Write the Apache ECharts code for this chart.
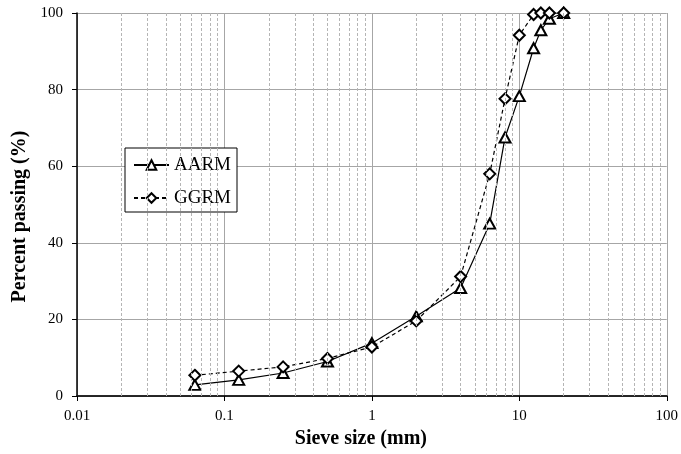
<!DOCTYPE html>
<html>
<head>
<meta charset="utf-8">
<script src="https://cdn.jsdelivr.net/npm/echarts@6/dist/echarts.min.js"></script>
<style>html,body{margin:0;padding:0;background:#fff;}#c{width:681px;height:454px;}</style>
</head>
<body>
<div id="c"></div>
<script>
var sieveSizes = [0.063, 0.125, 0.25, 0.5, 1, 2, 4, 6.3, 8, 10, 12.5, 14, 16, 20];
var aarm = [2.9, 4.2, 6.0, 9.0, 13.8, 20.8, 28.2, 45.0, 67.5, 78.3, 90.8, 95.5, 98.5, 100];
var ggrm = [5.4, 6.5, 7.6, 9.8, 12.8, 19.6, 31.2, 58.0, 77.6, 94.2, 99.6, 100, 100, 100];
var yTicks = [0, 20, 40, 60, 80, 100];
var decades = [0.01, 0.1, 1, 10];
var minorMultipliers = [2, 3, 4, 5, 6, 7, 8, 9];

var minorLines = [];
decades.forEach(function (d) {
  minorMultipliers.forEach(function (m) {
    minorLines.push({ xAxis: +(d * m).toPrecision(3) });
  });
});

function pairs(xs, ys) { return xs.map(function (x, i) { return [x, ys[i]]; }); }

var font = 'Liberation Serif, Times New Roman, serif';
var chart = echarts.init(document.getElementById('c'));
chart.setOption({
  animation: false,
  textStyle: { fontFamily: font, color: '#000' },
  grid: { left: 77, right: 12, top: 13, bottom: 58 },
  legend: {
    data: ['AARM', 'GGRM'],
    orient: 'vertical',
    left: 125, top: 148,
    backgroundColor: '#fff',
    borderColor: '#000', borderWidth: 1,
    padding: [7, 6, 4, 8],
    itemWidth: 35, itemHeight: 12, itemGap: 13,
    textStyle: { fontFamily: font, fontSize: 19, color: '#000', lineHeight: 20 }
  },
  xAxis: [{
    type: 'log', logBase: 10, min: 0.01, max: 100,
    name: 'Sieve size (mm)', nameLocation: 'middle', nameGap: 33,
    nameTextStyle: { fontFamily: font, fontSize: 20, fontWeight: 'bold', color: '#000', padding: [0, 22, 0, 0] },
    axisLine: { show: true, onZero: false, lineStyle: { color: '#000', width: 1.5 } },
    axisTick: { show: true, inside: false, length: 5, lineStyle: { color: '#000' } },
    axisLabel: { fontFamily: font, fontSize: 15, color: '#000', margin: 13,
      formatter: function (v) { return String(+v.toPrecision(3)); } },
    splitLine: { show: true, lineStyle: { color: '#a6a6a6', width: 1 } },
    minorTick: { show: false }, minorSplitLine: { show: false }
  }, {
    type: 'log', logBase: 10, min: 0.01, max: 100, position: 'top',
    axisLine: { show: true, lineStyle: { color: '#222', width: 1.5 } },
    axisTick: { show: false }, axisLabel: { show: false }, splitLine: { show: false }
  }],
  yAxis: {
    type: 'value', min: yTicks[0], max: yTicks[yTicks.length - 1], interval: 20,
    name: 'Percent passing (%)', nameLocation: 'middle', nameGap: 46,
    nameTextStyle: { fontFamily: font, fontSize: 20, fontWeight: 'bold', color: '#000', padding: [0, 24, 0, 0] },
    axisLine: { show: true, lineStyle: { color: '#000', width: 1.5 } },
    axisTick: { show: true, inside: false, length: 5, lineStyle: { color: '#000' } },
    axisLabel: { fontFamily: font, fontSize: 15, color: '#000', margin: 14 },
    splitLine: { show: true, lineStyle: { color: '#a6a6a6', width: 1 } }
  },
  series: [{
    name: 'minorGrid', type: 'line', data: [], z: 1, silent: true,
    markLine: {
      silent: true, symbol: ['none', 'none'], label: { show: false },
      lineStyle: { color: '#b5b5b5', type: [3, 2], width: 1 },
      emphasis: { disabled: true },
      data: minorLines
    }
  }, {
    name: 'AARM', type: 'line', data: pairs(sieveSizes, aarm),
    symbol: 'emptyTriangle', symbolSize: [11, 10], showSymbol: true,
    lineStyle: { color: '#000', width: 1.2, type: 'solid' },
    itemStyle: { color: '#000', borderColor: '#000', borderWidth: 1 },
    z: 3
  }, {
    name: 'GGRM', type: 'line', data: pairs(sieveSizes, ggrm),
    symbol: 'emptyDiamond', symbolSize: 11, showSymbol: true,
    lineStyle: { color: '#000', width: 1.2, type: [4, 3] },
    itemStyle: { color: '#000', borderColor: '#000', borderWidth: 1 },
    z: 4
  }]
});
</script>
</body>
</html>
